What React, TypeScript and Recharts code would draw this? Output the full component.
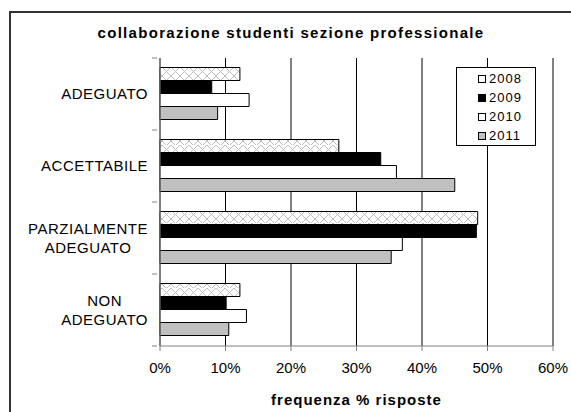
import { BarChart, Bar, XAxis, YAxis, CartesianGrid } from 'recharts';

const categories = ['ADEGUATO', 'ACCETTABILE', 'PARZIALMENTE\nADEGUATO', 'NON\nADEGUATO'];
const v2008 = [12.2, 27.3, 48.5, 12.2];
const v2009 = [7.9, 33.7, 48.3, 10.1];
const v2010 = [13.6, 36.1, 37.0, 13.2];
const v2011 = [8.8, 45.0, 35.3, 10.5];
const xTicks = [0, 10, 20, 30, 40, 50, 60];

const data = categories.map((name, i) => ({
  name,
  y2008: v2008[i],
  y2009: v2009[i],
  y2010: v2010[i],
  y2011: v2011[i],
}));

const FONT = '"Liberation Sans", Arial, sans-serif';
const CAT_SIZE = 15;
const CAT_SPACING = 0.5;

let ctx: CanvasRenderingContext2D | null = null;
function textWidth(s: string) {
  if (!ctx) ctx = document.createElement('canvas').getContext('2d');
  if (!ctx) return s.length * 9;
  ctx.font = `${CAT_SIZE}px ${FONT}`;
  return ctx.measureText(s).width + s.length * CAT_SPACING;
}

function CategoryTick(props: any) {
  const { x, y, payload, index } = props;
  const lines = String(payload.value).split('\n');
  const half = payload.offset || 36;
  const maxW = Math.max(...lines.map(textWidth));
  const cx = x - 4 - maxW / 2;
  const lh = 19.5;
  const y0 = y - ((lines.length - 1) * lh) / 2;
  return (
    <g>
      <line x1={x} x2={x + 5} y1={y - half} y2={y - half} stroke="#808080" />
      {index === categories.length - 1 && (
        <line x1={x} x2={x + 5} y1={y + half} y2={y + half} stroke="#808080" />
      )}
      {lines.map((l, i) => (
        <text
          key={i}
          x={cx}
          y={y0 + i * lh}
          dy="0.35em"
          textAnchor="middle"
          fontSize={CAT_SIZE}
          letterSpacing={CAT_SPACING}
          fontFamily={FONT}
          fill="#000"
        >
          {l}
        </text>
      ))}
    </g>
  );
}

const legendItems = [
  { label: '2008', fill: '#fff' },
  { label: '2009', fill: '#000' },
  { label: '2010', fill: '#fff' },
  { label: '2011', fill: '#c0c0c0' },
];

function LegendBox() {
  return (
    <div
      style={{
        position: 'absolute',
        left: 456,
        top: 67,
        width: 80,
        height: 79,
        border: '1px solid #000',
        background: '#fff',
        boxSizing: 'border-box',
        paddingTop: 1,
        fontFamily: FONT,
        fontSize: 13,
        letterSpacing: 1,
      }}
    >
      {legendItems.map((it) => (
        <div key={it.label} style={{ display: 'flex', alignItems: 'center', height: 19, paddingLeft: 21 }}>
          <span
            style={{
              display: 'inline-block',
              width: 6,
              height: 6,
              border: '1px solid #000',
              background: it.fill,
              marginRight: 3,
            }}
          />
          {it.label}
        </div>
      ))}
    </div>
  );
}

export default function App() {
  return (
    <div
      style={{
        position: 'absolute',
        left: 0,
        top: 0,
        width: 571,
        height: 412,
        overflow: 'hidden',
        background: '#fff',
      }}
    >
      <div
        style={{
          position: 'absolute',
          left: 9,
          top: 11,
          width: 600,
          height: 450,
          border: '2px solid #333',
        }}
      />
      <div
        style={{
          position: 'absolute',
          left: 0,
          top: 24,
          width: 582,
          textAlign: 'center',
          fontFamily: FONT,
          fontWeight: 'bold',
          fontSize: 15,
          letterSpacing: 1.3,
        }}
      >
        collaborazione studenti sezione professionale
      </div>
      <div style={{ position: 'absolute', left: 0, top: 0 }}>
        <BarChart
          width={571}
          height={412}
          data={data}
          layout="vertical"
          margin={{ top: 58, right: 18, bottom: 0, left: 0 }}
          barCategoryGap={9.5}
          barGap={0}
        >
          <defs>
            <pattern id="cross" width="9" height="13" patternUnits="userSpaceOnUse" y="2">
              <rect width="9" height="13" fill="#fff" />
              <path d="M0,0 L9,9 M9,0 L0,9 M0,9 L4.5,13.5 M9,9 L4.5,13.5" stroke="#bdbdbd" strokeWidth={1} fill="none" />
            </pattern>
          </defs>
          <CartesianGrid horizontal={false} vertical stroke="#000" />
          <XAxis
            type="number"
            domain={[0, 60]}
            ticks={xTicks}
            tickFormatter={(v) => `${v}%`}
            stroke="#808080"
            tickSize={5}
            tickMargin={11}
            height={66}
            tick={{ fill: '#000', fontSize: 15, fontFamily: FONT }}
            label={{
              value: 'frequenza % risposte',
              position: 'insideBottom',
              offset: 7,
              style: { fontFamily: FONT, fontWeight: 'bold', fontSize: 15, letterSpacing: 1, fill: '#000' },
            }}
          />
          <YAxis
            type="category"
            dataKey="name"
            width={160}
            stroke="#808080"
            tickLine={false}
            tick={<CategoryTick />}
            interval={0}
          />
          <Bar dataKey="y2008" name="2008" fill="url(#cross)" stroke="#000" isAnimationActive={false} />
          <Bar dataKey="y2009" name="2009" fill="#000" stroke="#000" isAnimationActive={false} />
          <Bar dataKey="y2010" name="2010" fill="#fff" stroke="#000" isAnimationActive={false} />
          <Bar dataKey="y2011" name="2011" fill="#c0c0c0" stroke="#000" isAnimationActive={false} />
        </BarChart>
      </div>
      <LegendBox />
    </div>
  );
}
